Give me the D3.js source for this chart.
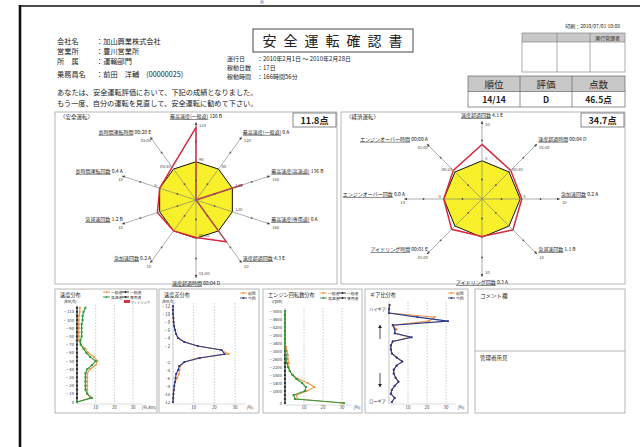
<!DOCTYPE html>
<html><head><meta charset="utf-8">
<script src="https://cdn.jsdelivr.net/npm/d3@7"></script>
<style>
body{margin:0;background:#fff}
svg{display:block}
text{font-family:"Noto Sans CJK JP","Noto Sans",sans-serif;fill:#222}
</style>
</head><body><svg id="c" width="640" height="447"></svg>
<script>
// ---------------- DATA ----------------
const companyLabels = ["会社名","営業所","所　属","乗務員名"];
const companyValues = ["加山興業株式会社","豊川営業所","運輸部門","前田　洋輔　(00000025)"];
const periodLabels = ["運行日","稼動日数","稼動時間"];
const periodValues = ["2010年2月1日 ～ 2010年2月28日","17日","166時間56分"];
const messageLines = ["あなたは、安全運転評価において、下記の成績となりました。","もう一度、自分の運転を見直して、安全運転に勧めて下さい。"];
const titleText = "安全運転確認書";
const printText = "印刷：2010/07/01 10:08";
const approvalHeaders = ["","","運行管理者"];
const scoreHeaders = ["順位","評価","点数"];
const scoreValues = ["14/14","D","46.5点"];

const safetyAxes = ["最高速度(一般道)","最高速度(一般道)","最高速度(高速道)","最高速度(専用道)","速度超過回数","速度超過時間","急加速回数","急減速回数","長時間運転回数","長時間運転時間"];
const safetyResults = ["126 B","0 A","136 B","0 A","4.3 E","00:04 D","0.2 A","1.2 B","0.4 A","00:20 E"];
const safetyMaxLabels = ["120","120","150","160","10","01:00","10","10","10","03:00"];
const safetyRingLabels = ["90","80","120","120","","00:30","","","5","00:30"];
const safetyBase = [4.9,4.9,4.9,4.9,4.9,4.9,4.9,4.9,4.9,4.9];
const safetyScore = [9.3,0,6.3,0,6.6,4.8,4.9,5.2,4.9,5.2];
const safetyTotal = "11.8点";

const ecoAxes = ["速度超過回数","速度超過時間","急加速回数","急減速回数","アイドリング回数","アイドリング時間","エンジンオーバー回数","エンジンオーバー時間"];
const ecoResults = ["4.1 E","00:04 D","0.2 A","1.1 B","0.3 A","00:01 E","0.0 A","00:00 A"];
const ecoMaxLabels = ["10","01:00","10","10","10","01:00","10","01:00"];
const ecoRingLabels = ["5","00:30","5","","","","0","00:30"];
const ecoBase = [4.9,4.9,4.9,4.9,4.9,4.9,4.9,4.9];
const ecoScore = [7.0,5.2,5.1,5.6,4.8,5.5,4.9,5.2];
const ecoTotal = "34.7点";

// speed distribution (bin 0 = 0 km/h ... bin 23 = 115 km/h)
const speedTicks = [[22,"~ 110"],[20,"~ 100"],[18,"~ 90"],[16,"~ 80"],[14,"~ 70"],[12,"~ 60"],[10,"~ 50"],[8,"~ 40"],[6,"~ 30"],[4,"~ 20"],[2,"~ 10"],[0,"0"]];
const speedGeneral = [0,7,5.5,5.5,5.5,5.5,5.5,5.5,7,10,11,9,6,4.5,2,1,1,1,1,1,1,1,1.5,1.5];
const speedHighway = [0,8,5.5,4.5,4.5,4.5,4.5,4.5,5.5,8,10,7,5,3.5,2,1.8,2.5,2.5,2.5,2.5,3,3,3.5,4.5];
const speedExpress = [0,0,0,0,0,0,0,0,0,0,0,0,0,0,0,0,0,0,0,0,0,0,0,0];

// speed difference distribution (row 0 = +12 ... row 24 = -12)
const diffTicks = [[0,"・12"],[2,"・10"],[4,"・8"],[6,"・6"],[8,"・4"],[10,"・2"],[14,"-2"],[16,"-4"],[18,"-6"],[20,"-8"],[22,"-10"],[24,"-12"]];
const diffThis = [0,0,0,0.2,0.3,0.5,1,1.5,2.5,5.5,12,23.5,25,13,5.5,3,2.5,1.5,1.2,1,0.6,0.4,0.2,0.1,0];
const diffPrev = [0,0,0,0.2,0.3,0.5,1,1.5,2.5,5.5,12,23,27,12,5.5,3.5,3.2,2.8,2,1,0.6,0.4,0.2,0.1,0];

// engine rpm distribution (row 0 = top)
const rpmTicks = [[0,"~ 5000"],[2,"~ 4600"],[4,"~ 4200"],[6,"~ 3800"],[8,"~ 3400"],[10,"~ 3000"],[12,"~ 2600"],[14,"~ 2200"],[16,"~ 1800"],[18,"~ 1400"],[20,"~ 1000"],[23,"0"]];
const rpmGeneral = [0,0,0,0,0,0,0,0,0,0.5,1,1.5,1.5,2,2,2.5,4,7,12,15.5,11.5,6,6.5,30];
const rpmHighway = [0,0,0,0,0,0,0,0,0,0,0.3,0.5,0.7,1,1.5,2.5,4,6,9,11,10.5,4.5,5.3,31];
const rpmExpress = [0,0,0,0,0,0,0,0,0,0,0,0,0,0,0,0,0,0,0,0,0,0,0,0];

// gear ratio distribution (row 0 = high gear)
const gearThis = [0.3,0,0,15,31,2,3,3,12,2,1,1,1.5,4,7,4,2.5,2.5,3.5,5,3,1.5,1,3,1.5];
const gearPrev = [0.3,0,0,24,21,2,4,3,11,2,1,1,1.5,4,7,4,2.5,2.5,3.5,5,3,1.5,1,3,1.5];

const pctTicks = [10,20,30];

// ---------------- DRAW ----------------
const svg = d3.select("#c");
const ORANGE="#f0964a", GREEN="#2f9a3c", BLUE="#2c3a8e", BLACK="#222", RED="#d8283c", YELLOW="#f7f02a";

function txt(g,x,y,s,size,o={}){
  const t=g.append("text").attr("x",x).attr("y",y).attr("font-size",size).text(s);
  if(o.anchor) t.attr("text-anchor",o.anchor);
  if(o.weight) t.attr("font-weight",o.weight);
  if(o.fill) t.style("fill",o.fill);
  if(o.ls) t.attr("letter-spacing",o.ls);
  return t;
}

// page frame
svg.append("line").attr("x1",20).attr("y1",6).attr("x2",640).attr("y2",6).attr("stroke","#111").attr("stroke-width",1.6);
svg.append("line").attr("x1",20).attr("y1",5).attr("x2",20).attr("y2",447).attr("stroke","#111").attr("stroke-width",2.6);
svg.append("circle").attr("cx",262).attr("cy",2).attr("r",2).attr("fill","#c8b4e0");

// header info
const hdrY=[43.5,53.5,63.5,77];
companyLabels.forEach((l,i)=>{
  txt(svg,57,hdrY[i],l,7.2);
  txt(svg,96,hdrY[i],"："+companyValues[i],7.2);
});
const perY=[61,70,79];
periodLabels.forEach((l,i)=>{
  txt(svg,227,perY[i],l,6);
  txt(svg,257,perY[i],"："+periodValues[i],6);
});
messageLines.forEach((m,i)=>txt(svg,57,95+i*10.5,m,7.2));

// title
svg.append("rect").attr("x",253).attr("y",29).attr("width",160).attr("height",23).attr("fill","none").attr("stroke","#333").attr("stroke-width",0.9);
txt(svg,336,46,titleText,14,{anchor:"middle",ls:7});

// print date + approval table
txt(svg,620,28,printText,5,{anchor:"end"});
const apX=[522,557,590,625];
svg.append("rect").attr("x",522).attr("y",33).attr("width",103).attr("height",9).attr("fill","#c8c8c8");
svg.append("rect").attr("x",522).attr("y",33).attr("width",103).attr("height",39).attr("fill","none").attr("stroke","#777").attr("stroke-width",0.6);
svg.append("line").attr("x1",522).attr("x2",625).attr("y1",42).attr("y2",42).attr("stroke","#777").attr("stroke-width",0.6);
[557,590].forEach(x=>svg.append("line").attr("x1",x).attr("x2",x).attr("y1",33).attr("y2",72).attr("stroke","#777").attr("stroke-width",0.6));
approvalHeaders.forEach((h,i)=>txt(svg,(apX[i]+apX[i+1])/2,40,h,5,{anchor:"middle"}));

// score table
const stX=[468,520,572,625];
const stTop=76;
svg.append("rect").attr("x",468).attr("y",stTop).attr("width",157).attr("height",15.5).attr("fill","#c8c8c8");
svg.append("rect").attr("x",468).attr("y",stTop).attr("width",157).attr("height",31).attr("fill","none").attr("stroke","#666").attr("stroke-width",0.7);
svg.append("line").attr("x1",468).attr("x2",625).attr("y1",stTop+15.5).attr("y2",stTop+15.5).attr("stroke","#666").attr("stroke-width",0.7);
[520,572].forEach(x=>svg.append("line").attr("x1",x).attr("x2",x).attr("y1",stTop).attr("y2",stTop+31).attr("stroke","#666").attr("stroke-width",0.7));
scoreHeaders.forEach((h,i)=>txt(svg,(stX[i]+stX[i+1])/2,stTop+11.5,h,9.5,{anchor:"middle"}));
scoreValues.forEach((h,i)=>txt(svg,(stX[i]+stX[i+1])/2,stTop+26.5,h,8.5,{anchor:"middle",weight:"bold"}));

// ---------- radar ----------
function radar(panel,cx,cy,R,axes,results,maxL,ringL,base,score,total,title){
  const g=svg.append("g");
  g.append("rect").attr("x",panel[0]).attr("y",panel[1]).attr("width",panel[2]-panel[0]).attr("height",panel[3]-panel[1]).attr("fill","none").attr("stroke","#999").attr("stroke-width",0.7);
  txt(g,panel[0]+5,panel[1]+7,title,5.5);
  g.append("rect").attr("x",panel[2]-44).attr("y",panel[1]+1).attr("width",43).attr("height",14).attr("fill","#fff").attr("stroke","#555").attr("stroke-width",0.7);
  txt(g,panel[2]-22.5,panel[1]+12,total,9,{anchor:"middle",weight:"bold"});
  const n=axes.length;
  const r=d3.scaleLinear().domain([0,10]).range([0,R]);
  const ang=i=>i*2*Math.PI/n;
  const pt=(i,v)=>[cx+r(v)*Math.sin(ang(i)),cy-r(v)*Math.cos(ang(i))];
  const c=g.append("g").attr("transform",`translate(${cx},${cy})`);
  const lr=d3.lineRadial().angle((d,i)=>ang(i)).radius(d=>r(d)).curve(d3.curveLinearClosed);
  c.append("path").attr("d",lr(base)).attr("fill",YELLOW).attr("stroke","#111").attr("stroke-width",1);
  axes.forEach((a,i)=>{
    const [x2,y2]=pt(i,10);
    g.append("line").attr("x1",cx).attr("y1",cy).attr("x2",x2).attr("y2",y2).attr("stroke","#777").attr("stroke-width",0.6);
    [2.5,7.5].forEach(v=>{const [px,py]=pt(i,v);g.append("circle").attr("cx",px).attr("cy",py).attr("r",0.9).attr("fill","#555");});
    const a0=ang(i);
    const ux=Math.sin(a0),uy=-Math.cos(a0),vx=-uy,vy=ux;
    g.append("path").attr("d",`M${x2},${y2}L${x2-3*ux+1.3*vx},${y2-3*uy+1.3*vy}L${x2-3*ux-1.3*vx},${y2-3*uy-1.3*vy}Z`).attr("fill","#444");
    const s=Math.sin(a0);
    let nx,ny,anchor,mx,my,manchor;
    if(Math.abs(s)<0.1){
      anchor="middle";nx=x2;
      if(Math.cos(a0)>0){ny=y2-4;mx=x2+3;my=y2+5;}else{ny=y2+7;mx=x2+3;my=y2-3;}
      manchor="start";
    } else if(s>0){anchor="start";nx=x2+1;ny=y2-3;mx=x2+2;my=y2+5;manchor="start";}
    else {anchor="end";nx=x2+1;ny=y2-3;mx=x2+1;my=y2+5;manchor="end";}
    const t=g.append("text").attr("x",nx).attr("y",ny).attr("font-size",5).attr("text-anchor",anchor);
    t.append("tspan").attr("text-decoration","underline").text(a);
    t.append("tspan").text(" "+results[i]);
    txt(g,mx,my,maxL[i],4.2,{anchor:manchor,fill:"#444"});
    if(ringL[i]){
      const [bx,by]=pt(i,base[i]);
      const ra = s< -0.1 ? "end":"start";
      txt(g, s< -0.1? bx-3: bx+3, by-1, ringL[i],4.2,{anchor:ra,fill:"#444"});
    }
  });
  c.append("path").attr("d",lr(score)).attr("fill","none").attr("stroke",RED).attr("stroke-width",1.5).attr("stroke-linejoin","miter");
}
radar([55,112,337,284],196,200,78,safetyAxes,safetyResults,safetyMaxLabels,safetyRingLabels,safetyBase,safetyScore,safetyTotal,"〈安全運転〉");
radar([341,112,625,284],482,199,78,ecoAxes,ecoResults,ecoMaxLabels,ecoRingLabels,ecoBase,ecoScore,ecoTotal,"〈経済運転〉");

// ---------- distribution panels ----------
function dist(o){
  const g=svg.append("g");
  g.append("rect").attr("x",o.px0).attr("y",289).attr("width",o.px1-o.px0).attr("height",124).attr("fill","none").attr("stroke","#999").attr("stroke-width",0.7);
  txt(g,o.px0+5,296.5,o.title,5.2);
  if(o.unit) txt(g,o.unitX,302.5,o.unit,4);
  const x=d3.scaleLinear().domain([0,30]).range([o.x0,o.x30]);
  const y=d3.scaleLinear().domain([0,o.n-1]).range([o.yTop,o.yBot]);
  const yOf = o.bottomUp ? (i=>y(o.n-1-i)) : (i=>y(i));
  pctTicks.forEach(t=>{
    g.append("line").attr("x1",x(t)).attr("x2",x(t)).attr("y1",o.yTop-3).attr("y2",o.yBot+2).attr("stroke","#999").attr("stroke-width",0.5).attr("stroke-dasharray","1.5,1.5");
    txt(g,x(t),409,String(t),4.3,{anchor:"middle",fill:"#444"});
  });
  txt(g,o.pctX,409,o.pctLabel,4.3,{anchor:"middle",fill:"#444"});
  g.append("line").attr("x1",x(0)).attr("x2",x(35)).attr("y1",o.yBot+2).attr("y2",o.yBot+2).attr("stroke","#bbb").attr("stroke-width",0.5);
  g.append("line").attr("x1",x(0)).attr("x2",x(0)).attr("y1",o.yTop-3).attr("y2",o.yBot+2).attr("stroke","#888").attr("stroke-width",0.5);
  (o.ticks||[]).forEach(([i,l])=>txt(g,x(0)-3,yOf(i)+1.5,l,4.2,{anchor:"end",fill:"#333"}));
  o.series.forEach(s=>{
    const line=d3.line().x(d=>x(d)).y((d,i)=>yOf(i));
    g.append("path").attr("d",line(s.values)).attr("fill","none").attr("stroke",s.color).attr("stroke-width",1.1);
    g.selectAll(null).data(s.values).enter().append(s.shape==="rect"?"rect":"circle")
      .each(function(d,i){
        const e=d3.select(this);
        if(s.shape==="rect") e.attr("x",x(d)-1).attr("y",yOf(i)-1).attr("width",2).attr("height",2);
        else e.attr("cx",x(d)).attr("cy",yOf(i)).attr("r",1.1);
      }).attr("fill",s.color);
  });
  (o.legend||[]).forEach(l=>{
    if(l.box){g.append("rect").attr("x",l.x).attr("y",l.y-2).attr("width",6).attr("height",3).attr("fill",l.color);}
    else{
      g.append("line").attr("x1",l.x).attr("x2",l.x+7).attr("y1",l.y).attr("y2",l.y).attr("stroke",l.color).attr("stroke-width",0.9);
      g.append("circle").attr("cx",l.x+3.5).attr("cy",l.y).attr("r",0.9).attr("fill",l.color);
    }
    txt(g,l.x+8,l.y+1.5,l.text,3.8,{fill:"#333"});
  });
  return {g,x,yOf};
}

dist({px0:55,px1:157,title:"速度分布",unit:"(km/h)",unitX:64,x0:77,x30:133,n:24,yTop:307.7,yBot:402,bottomUp:true,
  ticks:speedTicks,pctX:149,pctLabel:"(%,km)",
  series:[{values:speedExpress,color:BLACK},{values:speedGeneral,color:ORANGE},{values:speedHighway,color:GREEN,shape:"rect"}],
  legend:[{x:103,y:292,color:ORANGE,text:"一般道"},{x:122,y:292,color:BLACK,text:"一般道"},{x:103,y:297,color:GREEN,text:"高速道"},{x:122,y:297,color:BLACK,text:"専用道"},{x:124,y:302,color:"#e03040",text:"",box:true}]});
txt(svg,131,303.5,"アイドリング",3.2,{fill:"#333"});

dist({px0:159,px1:259,title:"速度差分布",unit:"(km/h)",unitX:162,x0:173,x30:235,n:25,yTop:306,yBot:402,
  ticks:diffTicks,pctX:250,pctLabel:"(%)",
  series:[{values:diffPrev,color:ORANGE},{values:diffThis,color:BLUE}],
  legend:[{x:240,y:293,color:ORANGE,text:"前回"},{x:240,y:298,color:BLUE,text:"今回"}]});

dist({px0:263,px1:362,title:"エンジン回転数分布",unit:"(rpm)",unitX:272,x0:285,x30:342,n:24,yTop:311,yBot:403,
  ticks:rpmTicks,pctX:357,pctLabel:"(%)",
  series:[{values:rpmExpress,color:BLACK},{values:rpmGeneral,color:ORANGE},{values:rpmHighway,color:GREEN,shape:"rect"}],
  legend:[{x:320,y:293,color:ORANGE,text:"一般道"},{x:339,y:293,color:BLACK,text:"一般道"},{x:320,y:298,color:GREEN,text:"高速道"},{x:339,y:298,color:BLACK,text:"専用道"}]});

dist({px0:365,px1:468,title:"ギア比分布",unit:"",x0:389,x30:446,n:25,yTop:305,yBot:402,
  ticks:[],pctX:461,pctLabel:"(%)",
  series:[{values:gearPrev,color:ORANGE},{values:gearThis,color:BLUE}],
  legend:[{x:448,y:293,color:ORANGE,text:"前回"},{x:448,y:298,color:BLUE,text:"今回"}]});
txt(svg,386,311,"ハイギア",4.2,{anchor:"end"});
txt(svg,386,403,"ローギア",4.2,{anchor:"end"});
function arrow(x,y1,y2){
  svg.append("line").attr("x1",x).attr("x2",x).attr("y1",y1).attr("y2",y2).attr("stroke","#222").attr("stroke-width",0.8);
  const d=y2<y1?-1:1;
  svg.append("path").attr("d",`M${x},${y2}L${x-2},${y2-3*d}L${x+2},${y2-3*d}Z`).attr("fill","#222");
}
arrow(380,339,325);
arrow(380,373,387);

// comment box
svg.append("rect").attr("x",475).attr("y",289).attr("width",150).attr("height",124).attr("fill","none").attr("stroke","#999").attr("stroke-width",0.7);
svg.append("line").attr("x1",475).attr("x2",625).attr("y1",351).attr("y2",351).attr("stroke","#999").attr("stroke-width",0.7);
txt(svg,480,298,"コメント欄",5.5);
txt(svg,480,360,"管理者所見",5.5);
</script>
</body></html>
